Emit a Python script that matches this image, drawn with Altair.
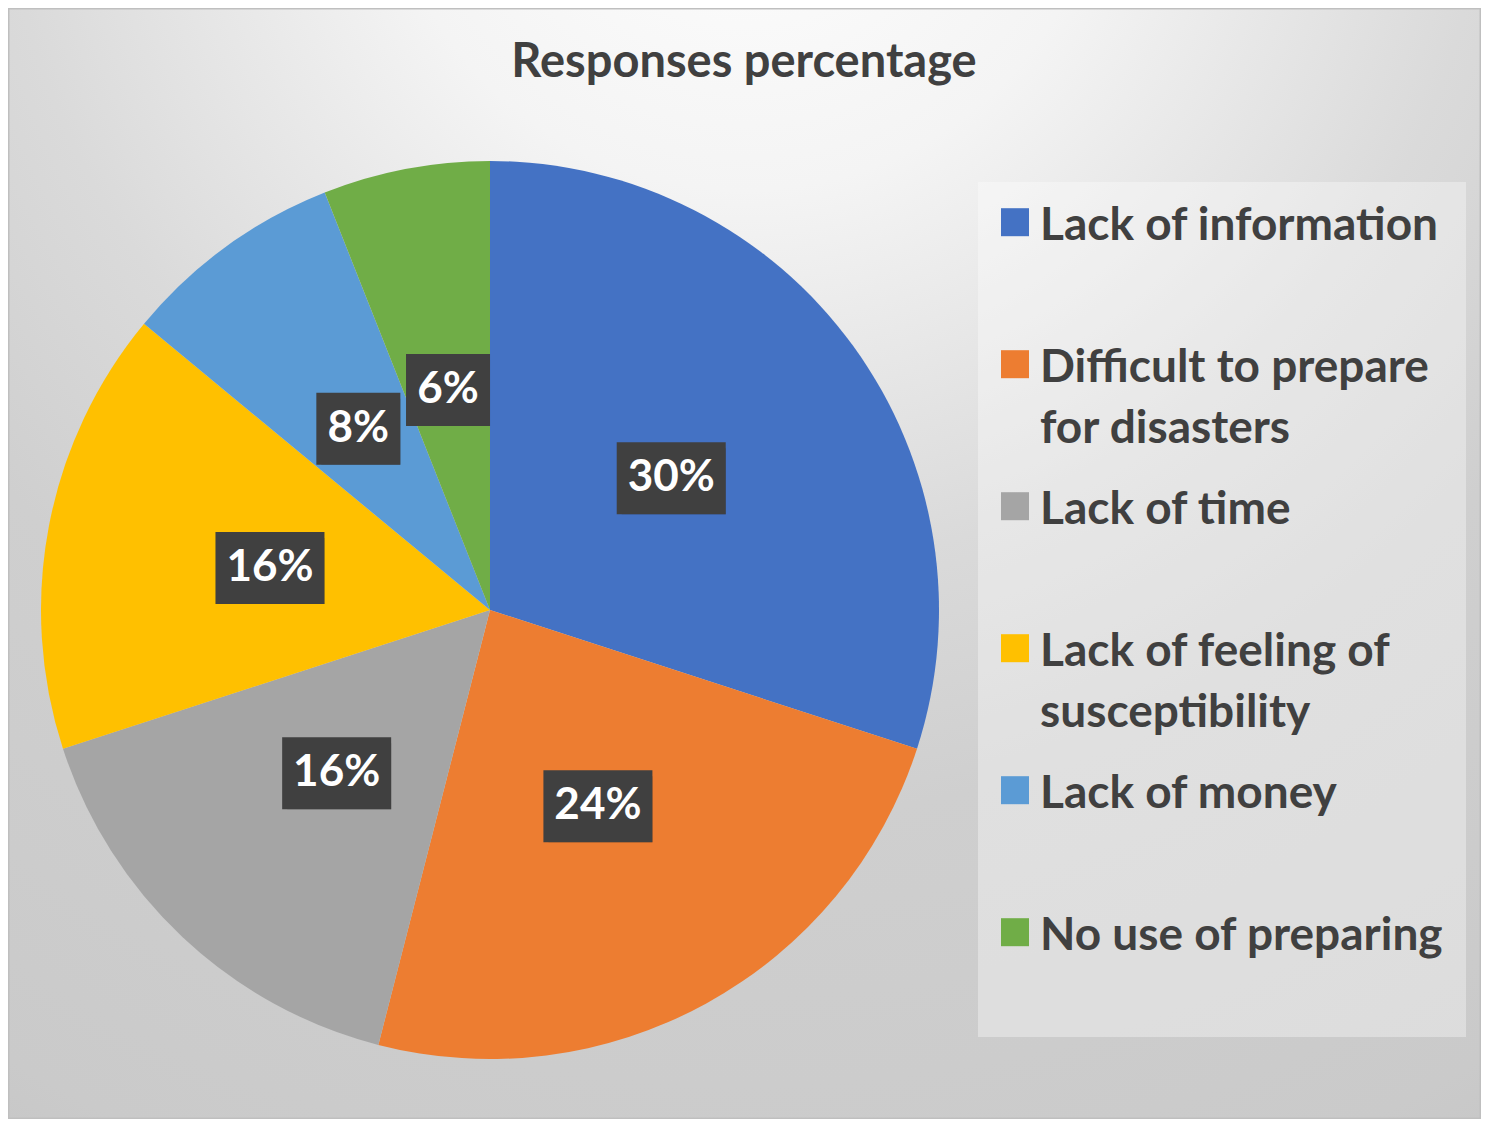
import altair as alt
import pandas as pd

# ---- data ----
categories = ["Lack of information", "Difficult to prepare for disasters", "Lack of time",
              "Lack of feeling of susceptibility", "Lack of money", "No use of preparing"]
values = [30, 24, 16, 16, 8, 6]
labels = ["30%", "24%", "16%", "16%", "8%", "6%"]
colors = ["#4472C4", "#ED7D31", "#A5A5A5", "#FFC000", "#5B9BD5", "#70AD47"]
title_text = "Responses percentage"

df = pd.DataFrame({"category": categories, "value": values, "label": labels,
                   "order": list(range(len(categories)))})

W, H = 1473, 1111
CX, CY, R = 482, 602, 449
LR = 224
FONT = "Lato"
TXT = "#404040"

one = alt.Data(values=[{"a": 1}])

gradient = {
    "gradient": "radial",
    "x1": 0.5, "y1": 0.0, "r1": 0.0,
    "x2": 0.5, "y2": 0.0, "r2": 1.12,
    "stops": [
        {"offset": 0.0, "color": "#ffffff"},
        {"offset": 0.22, "color": "#f4f4f4"},
        {"offset": 0.45, "color": "#dadada"},
        {"offset": 0.6, "color": "#cfcfcf"},
        {"offset": 0.87, "color": "#cacaca"},
        {"offset": 1.0, "color": "#c2c2c2"},
    ],
}

bg = alt.Chart(one).mark_rect(fill=gradient, stroke="#bfbfbf", strokeWidth=3).encode(
    x=alt.value(0), x2=alt.value(W), y=alt.value(0), y2=alt.value(H)
)

legend_box = alt.Chart(one).mark_rect(fill="#ffffff", fillOpacity=0.35).encode(
    x=alt.value(970), x2=alt.value(1458), y=alt.value(174), y2=alt.value(1029)
)

title = alt.Chart(one).mark_text(
    text=title_text, font=FONT, fontSize=47, fontWeight="bold", color=TXT,
    align="center", baseline="middle"
).encode(x=alt.value(736), y=alt.value(55))

label_expr = (
    "datum.label == 'Difficult to prepare for disasters' ? ['Difficult to prepare', 'for disasters'] : "
    "datum.label == 'Lack of feeling of susceptibility' ? ['Lack of feeling of', 'susceptibility'] : "
    "[datum.label, '']"
)

# square symbol drawn a little lower so that it sits on the first label line
symbol_path = "M-1,0.3 L1,0.3 L1,2.3 L-1,2.3 Z"

color = alt.Color(
    "category:N",
    scale=alt.Scale(domain=categories, range=colors),
    sort=categories,
    legend=alt.Legend(
        title=None, orient="none", legendX=984, legendY=173,
        symbolType=symbol_path, symbolSize=784, symbolStrokeWidth=0, symbolOpacity=1,
        labelFont=FONT, labelFontSize=46, labelFontWeight="bold", labelColor=TXT,
        labelOffset=2, labelLimit=700, labelExpr=label_expr, labelBaseline="top",
        rowPadding=13, padding=0,
    ),
)

pie = alt.Chart(df).mark_arc(outerRadius=R).encode(
    theta=alt.Theta("value:Q", stack=True),
    color=color,
    order=alt.Order("order:Q"),
    x=alt.value(CX), y=alt.value(CY),
)

pos = alt.Chart(df).transform_window(
    cum="sum(value)", sort=[alt.SortField("order")], frame=[None, 0]
).transform_joinaggregate(total="sum(value)").transform_calculate(
    mid="(datum.cum - datum.value/2) / datum.total * 2 * PI",
    lx=f"{CX} + {LR} * sin(datum.mid)",
    ly=f"{CY} - {LR} * cos(datum.mid)",
    hw="(25 * length(datum.label) + 34) / 2",
    bx1="datum.lx - datum.hw", bx2="datum.lx + datum.hw",
    by1="datum.ly - 36", by2="datum.ly + 36",
)

shadow = pos.mark_rect(fill="#000000", opacity=0.28, xOffset=5, yOffset=6).encode(
    x=alt.X("bx1:Q", scale=None), x2="bx2:Q",
    y=alt.Y("by1:Q", scale=None), y2="by2:Q",
)
box = pos.mark_rect(fill="#404040").encode(
    x=alt.X("bx1:Q", scale=None), x2="bx2:Q",
    y=alt.Y("by1:Q", scale=None), y2="by2:Q",
)
text = pos.mark_text(font=FONT, fontSize=44, fontWeight="bold", color="#ffffff",
                     align="center", baseline="middle").encode(
    x=alt.X("lx:Q", scale=None), y=alt.Y("ly:Q", scale=None), text="label:N"
)

chart = alt.layer(bg, legend_box, title, pie, shadow, box, text).properties(
    width=W, height=H,
    autosize=alt.AutoSizeParams(type="none"),
    padding=0,
).configure_view(stroke=None).configure(
    style={"guide-label": {"lineHeight": 61}}
)

chart.save("out.html", embed_options={"renderer": "svg", "actions": False})
